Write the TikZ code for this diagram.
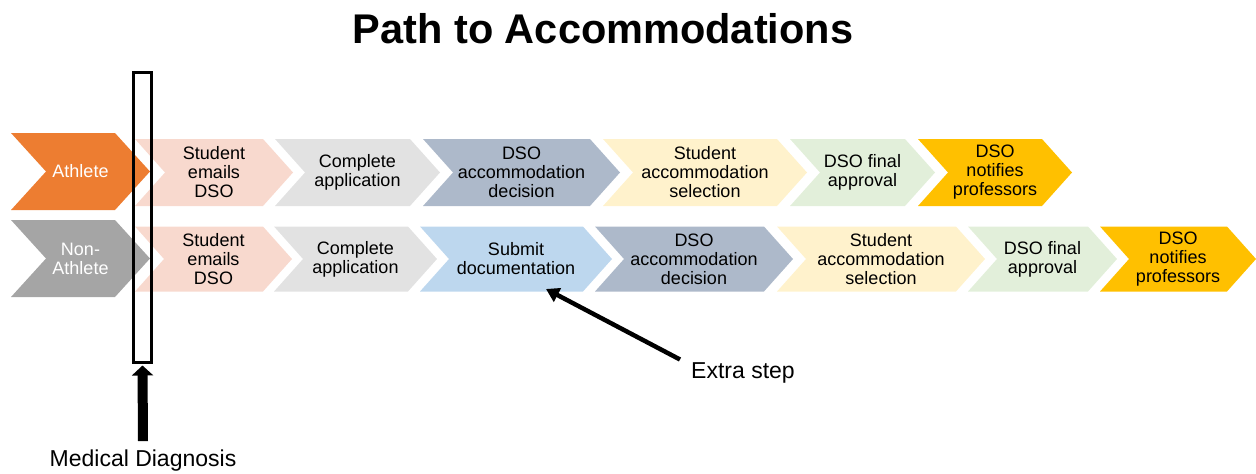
\documentclass[tikz,border=0pt]{standalone}
\usepackage{fontspec}
\setmainfont{Liberation Sans}
\usetikzlibrary{arrows.meta}

\definecolor{cAthlete}{HTML}{ED7D31}
\definecolor{cNon}{HTML}{A5A5A5}
\definecolor{cEmail}{HTML}{F8D9CE}
\definecolor{cApp}{HTML}{E2E2E2}
\definecolor{cDecision}{HTML}{ADB9CA}
\definecolor{cSelect}{HTML}{FFF2CC}
\definecolor{cFinal}{HTML}{E2EFDA}
\definecolor{cNotify}{HTML}{FFC000}
\definecolor{cDocs}{HTML}{BDD7EE}

\tikzset{
  steptext/.style={align=center, inner sep=0pt, text=black,
    font=\fontsize{18}{19}\selectfont},
  grouptext/.style={steptext, text=white},
  calltext/.style={inner sep=0pt, font=\fontsize{23}{26}\selectfont},
  callarrow/.style={line width=4.5pt, -{Triangle[length=13pt,width=15pt]}},
  barrow/.style={line width=10pt, -{Triangle[length=10pt,width=21pt]}},
}

% chevron: name, left x, tip x, centre y, half height, point depth, fill, text style, text
\newcommand\chevron[9]{%
  \fill[#7] (#2,#4-#5) -- (#3-#6,#4-#5) -- (#3,#4) -- (#3-#6,#4+#5)
    -- (#2,#4+#5) -- (#2+#6,#4) -- cycle;
  \node[#8] (#1) at ({(#2+#3)/2},#4) {#9};
}

\begin{document}
\begin{tikzpicture}[x=1pt,y=-1pt]
\useasboundingbox (0,0) rectangle (1256,474);

\node[font=\fontsize{41.5}{45}\selectfont\bfseries, inner sep=0pt] (title) at (603,29) {Path to Accommodations};

% athlete path
\chevron{ath}{11}{150}{171.5}{38.5}{35}{cAthlete}{grouptext}{Athlete}
\chevron{a1}{135}{293}{172.5}{33.5}{30}{cEmail}{steptext}{Student\\emails\\DSO}
\chevron{a2}{275}{440}{172.5}{33.5}{30}{cApp}{steptext}{Complete\\application}
\chevron{a3}{423}{620}{172.5}{33.5}{30}{cDecision}{steptext}{DSO\\accommodation\\decision}
\chevron{a4}{603}{807}{172.5}{33.5}{30}{cSelect}{steptext}{Student\\accommodation\\selection}
\chevron{a5}{790}{935}{172.5}{33.5}{30}{cFinal}{steptext}{DSO final\\approval}
\chevron{a6}{918}{1072}{172.5}{33.5}{30}{cNotify}{steptext}{DSO\\notifies\\professors}

% non-athlete path
\chevron{non}{11}{150}{258.5}{38.5}{35}{cNon}{grouptext}{Non-\\Athlete}
\chevron{n1}{135}{292}{259}{32.5}{29}{cEmail}{steptext}{Student\\emails\\DSO}
\chevron{n2}{274}{437}{259}{32.5}{29}{cApp}{steptext}{Complete\\application}
\chevron{n3}{420}{612}{259}{32.5}{29}{cDocs}{steptext}{Submit\\documentation}
\chevron{n4}{595}{793}{259}{32.5}{29}{cDecision}{steptext}{DSO\\accommodation\\decision}
\chevron{n5}{777}{985}{259}{32.5}{29}{cSelect}{steptext}{Student\\accommodation\\selection}
\chevron{n6}{968}{1117}{259}{32.5}{29}{cFinal}{steptext}{DSO final\\approval}
\chevron{n7}{1100}{1256}{259}{32.5}{29}{cNotify}{steptext}{DSO\\notifies\\professors}

% medical diagnosis marker
\node[draw=black, line width=3pt, minimum width=18pt, minimum height=290pt, inner sep=0pt]
  (diag) at (142.5,217.5) {};
\node[calltext] (med) at (143,461) {Medical Diagnosis};
\draw[barrow] ([yshift=9pt]med.north) -- ([yshift=-1.5pt]diag.south);

% extra step callout
\node[calltext, anchor=west] (extra) at (691,373) {Extra step};
\coordinate (extratarget) at (546,289);
\draw[callarrow] ([xshift=-11pt,yshift=3pt]extra.north west) -- (extratarget);
\end{tikzpicture}
\end{document}
